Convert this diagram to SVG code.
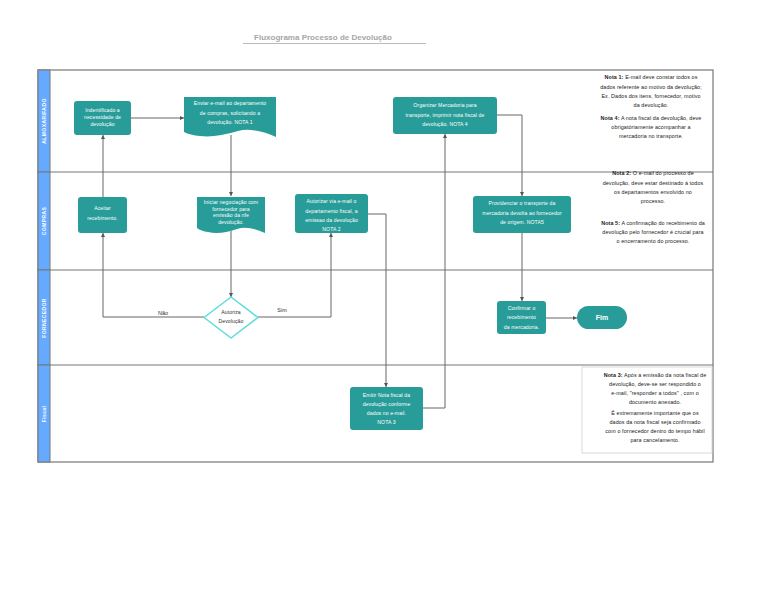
<svg xmlns="http://www.w3.org/2000/svg" width="768" height="615" viewBox="0 0 768 615">
<defs>
<style>
.lane{fill:none;stroke:#777;stroke-width:1.2}
.hdr{fill:#66aaff;stroke:#777;stroke-width:1}
.hdrt{font-family:"Liberation Sans",Arial,sans-serif;font-size:5px;font-weight:bold;fill:#fff;text-anchor:middle;letter-spacing:0.4px}
.node{fill:#289c98;stroke:none}
.nt{font-family:"Liberation Sans",Arial,sans-serif;font-size:5.1px;fill:#fff;text-anchor:middle;letter-spacing:0.1px}
.note{font-family:"Liberation Sans",Arial,sans-serif;font-size:5.4px;fill:#222;text-anchor:middle;letter-spacing:0.1px}
.nbox{fill:none;stroke:#d0d0d0;stroke-width:0.8}
.conn{fill:none;stroke:#666;stroke-width:1}
.lbl{font-family:"Liberation Sans",Arial,sans-serif;font-size:5.5px;fill:#333;text-anchor:middle}
</style>
<marker id="arr" viewBox="0 0 10 10" refX="10" refY="5" markerWidth="4" markerHeight="4" markerUnits="userSpaceOnUse" orient="auto">
<path d="M0,0 L10,5 L0,10 z" fill="#555"/>
</marker>
</defs>
<rect width="768" height="615" fill="#fff"/>

<g id="title">
<text x="323" y="40" font-family="'Liberation Sans',Arial,sans-serif" font-size="8px" font-weight="bold" fill="#a6a6a6" text-anchor="middle">Fluxograma Processo de Devolução</text>
<line x1="243" y1="43.5" x2="426" y2="43.5" stroke="#aaa" stroke-width="0.8"/>
</g>

<g id="lanes">
<rect class="lane" x="38" y="70" width="675" height="392"/>
<line class="lane" x1="38" y1="172" x2="713" y2="172" stroke-width="1.5"/>
<line class="lane" x1="38" y1="270" x2="713" y2="270" stroke-width="1.5"/>
<line class="lane" x1="38" y1="365" x2="713" y2="365" stroke-width="1.5"/>
<rect class="hdr" x="38" y="70" width="12" height="102"/>
<rect class="hdr" x="38" y="172" width="12" height="98"/>
<rect class="hdr" x="38" y="270" width="12" height="95"/>
<rect class="hdr" x="38" y="365" width="12" height="97"/>
<text class="hdrt" transform="translate(45.8,121) rotate(-90)">ALMOXARIFADO</text>
<text class="hdrt" transform="translate(45.8,221) rotate(-90)">COMPRAS</text>
<text class="hdrt" transform="translate(45.8,318) rotate(-90)">FORNECEDOR</text>
<text class="hdrt" transform="translate(45.8,414) rotate(-90)" font-weight="normal">Fiscal</text>
</g>

<g id="connectors">
<path class="conn" d="M131,118 H184" marker-end="url(#arr)"/>
<path class="conn" d="M231,135 V196" marker-end="url(#arr)"/>
<path class="conn" d="M231,231 V297" marker-end="url(#arr)"/>
<path class="conn" d="M204,317 H103 V233" marker-end="url(#arr)"/>
<path class="conn" d="M103,197 V135" marker-end="url(#arr)"/>
<path class="conn" d="M258,317 H331 V233" marker-end="url(#arr)"/>
<path class="conn" d="M368,214 H386 V387" marker-end="url(#arr)"/>
<path class="conn" d="M423,408 H445 V134" marker-end="url(#arr)"/>
<path class="conn" d="M497,115 H522 V196" marker-end="url(#arr)"/>
<path class="conn" d="M522,233 V301" marker-end="url(#arr)"/>
<path class="conn" d="M546,318 H577" marker-end="url(#arr)"/>
<text class="lbl" x="163" y="315">Não</text>
<text class="lbl" x="282" y="312">Sim</text>
</g>

<g id="n-identificado">
<rect class="node" x="74" y="101" width="57" height="34" rx="3"/>
<text class="nt" x="102.5" y="112">Indentificado a</text>
<text class="nt" x="102.5" y="119">necessidade de</text>
<text class="nt" x="102.5" y="126">devolução</text>
</g>

<g id="n-enviar">
<path class="node" d="M184,97 H276 V137 Q253,127 238,131 Q215,138 200,136 Q190,135 184,132 Z"/>
<text class="nt" x="230" y="105">Enviar e-mail ao departamento</text>
<text class="nt" x="230" y="114.5">de compras, solicitando a</text>
<text class="nt" x="230" y="124">devolução. NOTA 1</text>
</g>

<g id="n-organizar">
<rect class="node" x="393" y="97" width="104" height="37" rx="3"/>
<text class="nt" x="445" y="107">Organizar Mercadoria para</text>
<text class="nt" x="445" y="116.5">transporte, imprimir nota fiscal de</text>
<text class="nt" x="445" y="126">devolução. NOTA 4</text>
</g>

<g id="n-aceitar">
<rect class="node" x="78" y="197" width="49" height="36" rx="3"/>
<text class="nt" x="102.5" y="210">Aceitar</text>
<text class="nt" x="102.5" y="220">recebimento.</text>
</g>

<g id="n-iniciar">
<path class="node" d="M197,197 H265 V233 Q248,225 237,229 Q220,235 208,232 Q201,231 197,228 Z"/>
<text class="nt" x="231" y="204">Iniciar negociação com</text>
<text class="nt" x="231" y="210.5">fornecedor para</text>
<text class="nt" x="231" y="217">emissão da nfe</text>
<text class="nt" x="231" y="223.5">devolução.</text>
</g>

<g id="n-autorizar">
<rect class="node" x="295" y="194" width="73" height="39" rx="3"/>
<text class="nt" x="331.5" y="203">Autorizar via e-mail o</text>
<text class="nt" x="331.5" y="212.5">departamento fiscal, a</text>
<text class="nt" x="331.5" y="221.5">emissao da devolução</text>
<text class="nt" x="331.5" y="230.5">NOTA 2</text>
</g>

<g id="n-providenciar">
<rect class="node" x="473" y="196" width="98" height="37" rx="3"/>
<text class="nt" x="522" y="205">Providenciar o transporte da</text>
<text class="nt" x="522" y="214.5">mercadoria devolta ao fornecedor</text>
<text class="nt" x="522" y="224">de origem. NOTA5</text>
</g>

<g id="n-decisao">
<path d="M231,297 L258,317.5 L231,338 L204,317.5 Z" fill="#fff" stroke="#5cdcdc" stroke-width="1.5" stroke-linejoin="round"/>
<text class="nt" x="231" y="314" style="fill:#333">Autoriza</text>
<text class="nt" x="231" y="323" style="fill:#333">Devolução</text>
</g>

<g id="n-confirmar">
<rect class="node" x="497" y="301" width="49" height="33" rx="3"/>
<text class="nt" x="521.5" y="310">Confirmar o</text>
<text class="nt" x="521.5" y="319">recebimento</text>
<text class="nt" x="521.5" y="328.5">da mercadoria.</text>
</g>

<g id="n-fim">
<rect class="node" x="577" y="306" width="50" height="23" rx="11.5"/>
<text class="nt" x="602" y="320" style="font-size:7px;font-weight:bold">Fim</text>
</g>

<g id="n-emitir">
<rect class="node" x="350" y="387" width="73" height="43" rx="3"/>
<text class="nt" x="386.5" y="397">Emitir Nota fiscal da</text>
<text class="nt" x="386.5" y="406">devolução conforme</text>
<text class="nt" x="386.5" y="415">dados no e-mail.</text>
<text class="nt" x="386.5" y="424">NOTA 3</text>
</g>

<g id="note-1-4">
<text class="note" x="651" y="79"><tspan font-weight="bold">Nota 1:</tspan> E-mail deve constar todos os</text>
<text class="note" x="651" y="88.5">dados referente ao motivo da devolução;</text>
<text class="note" x="651" y="97.5">Ex. Dados dos itens, fornecedor, motivo</text>
<text class="note" x="651" y="106.5">da devolução.</text>
<text class="note" x="651" y="119.5"><tspan font-weight="bold">Nota 4:</tspan> A nota fiscal da devolução, deve</text>
<text class="note" x="651" y="128.5">obrigatóriamente acompanhar a</text>
<text class="note" x="651" y="138">mercadoria no transporte.</text>
</g>

<g id="note-2-5">
<text class="note" x="653" y="175"><tspan font-weight="bold">Nota 2:</tspan> O e-mail do processo de</text>
<text class="note" x="653" y="184.5">devolução, deve estar destinado á todos</text>
<text class="note" x="653" y="193.5">os departamentos envolvido no</text>
<text class="note" x="653" y="202.5">processo.</text>
<text class="note" x="653" y="224.5"><tspan font-weight="bold">Nota 5:</tspan> A confirmação do recebimento da</text>
<text class="note" x="653" y="233.5">devolução pelo fornecedor é crucial para</text>
<text class="note" x="653" y="242.5">o encerramento do processo.</text>
</g>

<g id="note-3">
<rect class="nbox" x="582" y="367" width="130" height="86"/>
<text class="note" x="655" y="377"><tspan font-weight="bold">Nota 3:</tspan> Após a emissão da nota fiscal de</text>
<text class="note" x="655" y="386">devolução, deve-se ser respondido o</text>
<text class="note" x="655" y="395">e-mail, "responder a todos" , com o</text>
<text class="note" x="655" y="404">documento anexado.</text>
<text class="note" x="655" y="414.5">É extremamente importante que os</text>
<text class="note" x="655" y="423.5">dados da nota fiscal seja confirmado</text>
<text class="note" x="655" y="432.5">com o fornecedor dentro do tempo hábil</text>
<text class="note" x="655" y="441.5">para cancelamento.</text>
</g>
</svg>
